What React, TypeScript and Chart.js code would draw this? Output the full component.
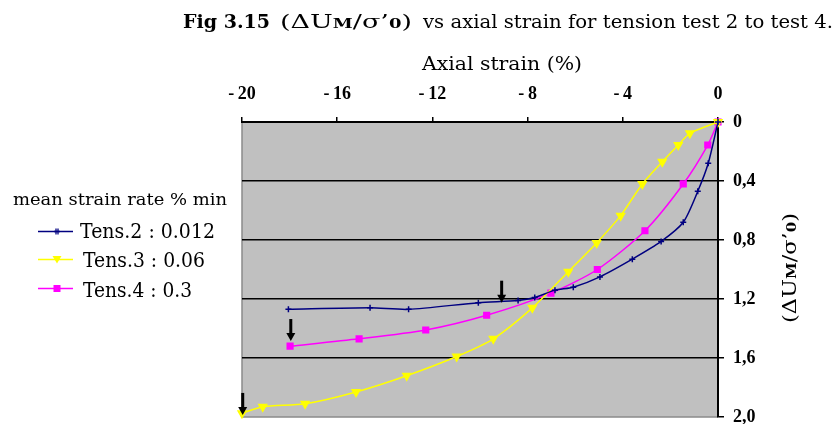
import React, { useEffect, useRef } from "react";
import { Chart, registerables } from "chart.js";

Chart.register(...registerables);

// ---- data ----
const xTickValues = [-20, -16, -12, -8, -4, 0];
const xTickLabels = ["-\u200920", "-\u200916", "-\u200912", "-\u20098", "-\u20094", "0"];
const yTickValues = [0, 0.4, 0.8, 1.2, 1.6, 2.0];
const yTickLabels = ["0", "0,4", "0,8", "1,2", "1,6", "2,0"];

const seriesNames = ["Tens.2 : 0.012", "Tens.3 : 0.06", "Tens.4 : 0.3"];

const tens2X = [0, -0.41, -0.85, -1.46, -2.39, -3.6, -4.96, -6.08, -6.85, -7.7, -8.4, -10.07, -13.0, -14.62, -18.05];
const tens2Y = [0, 0.28, 0.47, 0.68, 0.81, 0.93, 1.05, 1.12, 1.14, 1.19, 1.21, 1.225, 1.27, 1.26, 1.27];

const tens3X = [0, -1.18, -1.67, -2.34, -3.18, -4.09, -5.1, -6.29, -7.8, -9.44, -10.98, -13.08, -15.21, -17.35, -19.13, -20.0];
const tens3Y = [0, 0.077, 0.156, 0.27, 0.42, 0.635, 0.82, 1.015, 1.26, 1.47, 1.59, 1.72, 1.83, 1.91, 1.93, 1.975];

const tens4X = [0, -0.43, -1.46, -3.07, -5.07, -7.02, -9.72, -12.28, -15.08, -17.98];
const tens4Y = [0, 0.156, 0.42, 0.737, 1.0, 1.16, 1.31, 1.41, 1.47, 1.52];

// arrow annotations (tip positions, data units)
const arrowX = [-17.95, -9.09, -19.97];
const arrowY = [1.485, 1.225, 1.986];

const SERIF = '"Liberation Serif", "DejaVu Serif", serif';
const SLAB = '"DejaVu Serif", "Liberation Serif", serif';

type Run = { t: string; size: number; bold?: boolean; dy?: number };

function runsWidth(ctx: CanvasRenderingContext2D, runs: Run[]) {
  let w = 0;
  for (const r of runs) {
    ctx.font = `${r.bold ? "bold " : ""}${r.size}px ${SLAB}`;
    w += ctx.measureText(r.t).width;
  }
  return w;
}

function drawRuns(ctx: CanvasRenderingContext2D, runs: Run[], x: number, y: number) {
  let cx = x;
  for (const r of runs) {
    ctx.font = `${r.bold ? "bold " : ""}${r.size}px ${SLAB}`;
    ctx.fillText(r.t, cx, y + (r.dy || 0));
    cx += ctx.measureText(r.t).width;
  }
}

// draw runs so that they span exactly [x0, x1] horizontally
function drawFitted(ctx: CanvasRenderingContext2D, runs: Run[], x0: number, x1: number, y: number) {
  const w = runsWidth(ctx, runs);
  const s = (x1 - x0) / w;
  ctx.save();
  ctx.translate(x0, y);
  ctx.scale(s, 1);
  drawRuns(ctx, runs, 0, 0);
  ctx.restore();
}

function drawMarker(ctx: CanvasRenderingContext2D, kind: number, x: number, y: number, color: string) {
  ctx.save();
  ctx.fillStyle = color;
  ctx.strokeStyle = color;
  ctx.lineWidth = 1.3;
  if (kind === 0) {
    ctx.beginPath();
    ctx.moveTo(x - 3, y);
    ctx.lineTo(x + 3, y);
    ctx.moveTo(x - 1, y - 3);
    ctx.lineTo(x - 1, y + 3);
    ctx.moveTo(x + 1, y - 3);
    ctx.lineTo(x + 1, y + 3);
    ctx.stroke();
  } else if (kind === 1) {
    ctx.beginPath();
    ctx.moveTo(x - 4.5, y - 3.5);
    ctx.lineTo(x + 4.5, y - 3.5);
    ctx.lineTo(x, y + 4);
    ctx.closePath();
    ctx.fill();
  } else {
    ctx.fillRect(x - 3.5, y - 3.5, 7, 7);
  }
  ctx.restore();
}

const seriesColors = ["#000080", "#FFFF00", "#FF00FF"];

const decorPlugin = {
  id: "decor",
  beforeDraw(chart: any) {
    const { ctx, chartArea: a } = chart;
    ctx.save();
    ctx.fillStyle = "#C0C0C0";
    ctx.fillRect(a.left, a.top, a.right - a.left, a.bottom - a.top);
    ctx.strokeStyle = "#8a8a8a";
    ctx.lineWidth = 1.5;
    ctx.beginPath();
    ctx.moveTo(a.left, a.top);
    ctx.lineTo(a.left, a.bottom);
    ctx.lineTo(a.right, a.bottom);
    ctx.stroke();
    ctx.restore();
  },
  afterDraw(chart: any) {
    const { ctx } = chart;
    const xs = chart.scales.x;
    const ys = chart.scales.y;
    ctx.save();
    ctx.fillStyle = "#000";
    ctx.textBaseline = "alphabetic";
    ctx.textAlign = "left";

    // main title (three parts)
    drawFitted(ctx, [{ t: "Fig 3.15", size: 19, bold: true }], 183, 270, 28);
    drawFitted(
      ctx,
      [
        { t: "(\u0394U", size: 18 },
        { t: "M", size: 12, bold: true },
        { t: "/\u03c3\u2019", size: 18 },
        { t: "0", size: 12, bold: true },
        { t: ")", size: 18 },
      ],
      280,
      412,
      28
    );
    drawFitted(ctx, [{ t: "vs axial strain for tension test 2 to test 4.", size: 18 }], 423, 833, 28);

    // x axis title
    drawFitted(ctx, [{ t: "Axial strain (%)", size: 18 }], 422, 582, 70);

    // y axis title (rotated, reading bottom to top)
    const ytitle: Run[] = [
      { t: "(\u0394U", size: 18 },
      { t: "M", size: 12, bold: true },
      { t: "/\u03c3\u2019", size: 18 },
      { t: "0", size: 12, bold: true },
      { t: ")", size: 18 },
    ];
    ctx.save();
    ctx.translate(796, 268);
    ctx.rotate(-Math.PI / 2);
    drawFitted(ctx, ytitle, -55, 55, 0);
    ctx.restore();

    // legend
    drawFitted(ctx, [{ t: "mean strain rate % min", size: 16 }], 13, 227, 205);
    const ly = [231.5, 259.5, 288.5];
    const tx0 = [80, 83, 83];
    const tx1 = [215, 205, 192];
    const tb = [238, 266.5, 296.5];
    for (let i = 0; i < 3; i++) {
      ctx.save();
      ctx.strokeStyle = seriesColors[i];
      ctx.lineWidth = 1.5;
      ctx.beginPath();
      ctx.moveTo(38, ly[i]);
      ctx.lineTo(73, ly[i]);
      ctx.stroke();
      ctx.restore();
      drawMarker(ctx, i, 57, ly[i], seriesColors[i]);
      ctx.fillStyle = "#000";
      drawFitted(ctx, [{ t: seriesNames[i], size: 20 }], tx0[i], tx1[i], tb[i]);
    }

    // arrows
    for (let i = 0; i < arrowX.length; i++) {
      const px = xs.getPixelForValue(arrowX[i]);
      const py = ys.getPixelForValue(arrowY[i]);
      ctx.fillStyle = "#000";
      ctx.fillRect(px - 1.5, py - 22, 3, 15);
      ctx.beginPath();
      ctx.moveTo(px - 4.5, py - 8);
      ctx.lineTo(px + 4.5, py - 8);
      ctx.lineTo(px, py);
      ctx.closePath();
      ctx.fill();
    }
    ctx.restore();
  },
};

function pts(xsArr: number[], ysArr: number[]) {
  return xsArr.map((x, i) => ({ x, y: ysArr[i] }));
}

export default function App() {
  const ref = useRef<HTMLCanvasElement | null>(null);
  useEffect(() => {
    if (!ref.current) return;
    const chart = new Chart(ref.current, {
      type: "scatter",
      data: {
        datasets: [
          {
            label: seriesNames[0],
            data: pts(tens2X, tens2Y),
            showLine: true,
            borderColor: seriesColors[0],
            backgroundColor: seriesColors[0],
            borderWidth: 1.5,
            pointStyle: "cross",
            pointRadius: 3,
            pointBorderWidth: 1.5,
            tension: 0.25,
            clip: false,
          },
          {
            label: seriesNames[1],
            data: pts(tens3X, tens3Y),
            showLine: true,
            borderColor: seriesColors[1],
            backgroundColor: seriesColors[1],
            borderWidth: 1.5,
            pointStyle: "triangle",
            pointRotation: 180,
            pointRadius: 4.5,
            tension: 0.25,
            clip: false,
          },
          {
            label: seriesNames[2],
            data: pts(tens4X, tens4Y),
            showLine: true,
            borderColor: seriesColors[2],
            backgroundColor: seriesColors[2],
            borderWidth: 1.5,
            pointStyle: "rect",
            pointRadius: 4,
            tension: 0.25,
            clip: false,
          },
        ] as any,
      },
      options: {
        animation: false,
        responsive: false,
        events: [],
        layout: { padding: { left: 242, top: 77, right: 0, bottom: 7 } },
        plugins: { legend: { display: false }, tooltip: { enabled: false } },
        scales: {
          x: {
            type: "linear",
            position: "top",
            min: -20,
            max: 0,
            afterFit: (s: any) => {
              s.height = 45;
              s.paddingLeft = 0;
              s.paddingRight = 0;
              s.paddingTop = 0;
              s.paddingBottom = 0;
            },
            afterBuildTicks: (s: any) => {
              s.ticks = xTickValues.map((v) => ({ value: v }));
            },
            ticks: {
              padding: 12,
              maxRotation: 0,
              minRotation: 0,
              autoSkip: false,
              color: "#000",
              font: { family: SERIF, size: 18, weight: "bold" },
              callback: (v: any) => {
                const i = xTickValues.indexOf(Number(v));
                return i >= 0 ? xTickLabels[i] : "";
              },
            },
            grid: { drawOnChartArea: false, drawTicks: true, tickLength: 5, tickColor: "#000", lineWidth: 1.5 },
            border: { display: true, color: "#000", width: 2 },
          },
          y: {
            type: "linear",
            position: "right",
            reverse: true,
            min: 0,
            max: 2,
            afterFit: (s: any) => {
              s.width = 119;
              s.paddingLeft = 0;
              s.paddingRight = 0;
              s.paddingTop = 0;
              s.paddingBottom = 0;
            },
            afterBuildTicks: (s: any) => {
              s.ticks = yTickValues.map((v) => ({ value: v }));
            },
            ticks: {
              padding: 9,
              autoSkip: false,
              color: "#000",
              font: { family: SERIF, size: 18, weight: "bold" },
              callback: (v: any) => {
                const i = yTickValues.findIndex((t) => Math.abs(t - Number(v)) < 1e-6);
                return i >= 0 ? yTickLabels[i] : "";
              },
            },
            grid: {
              drawOnChartArea: true,
              tickLength: 6,
              tickColor: "#000",
              lineWidth: 1.5,
              color: (c: any) => (c.tick && Math.abs(c.tick.value - 2) < 1e-6 ? "rgba(0,0,0,0)" : "#000"),
            },
            border: { display: true, color: "#000", width: 2 },
          },
        },
      } as any,
      plugins: [decorPlugin],
    });
    return () => chart.destroy();
  }, []);
  return (
    <div style={{ position: "absolute", left: 0, top: 0, width: 837, height: 424, background: "#fff" }}>
      <canvas ref={ref} width={837} height={424} style={{ display: "block" }} />
    </div>
  );
}
